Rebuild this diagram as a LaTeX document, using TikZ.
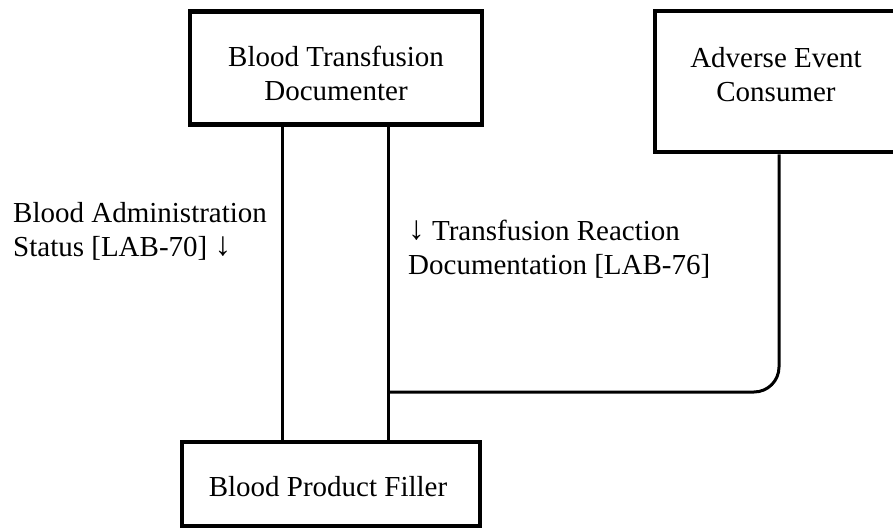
\documentclass[tikz,border=0pt]{standalone}
\usepackage{fontspec}
\setmainfont{Liberation Serif}
\usetikzlibrary{calc}
\newcommand{\darrow}{\resizebox*{!}{0.68em}{\raisebox{\depth}{↓}}}
\begin{document}
\begin{tikzpicture}[x=1pt,y=-1pt,
  box/.style={draw=black, line width=4.5pt, fill=white, inner sep=0pt},
  conn/.style={draw=black, line width=3pt},
  txt/.style={inner sep=0pt, font=\fontsize{29}{34}\selectfont}]
\useasboundingbox (0,0) rectangle (893,527);
% boxes
\node[box, minimum width=292pt, minimum height=113pt] (btd) at (336,68) {};
\node[box, minimum width=242pt, minimum height=141pt] (aec) at (776,81.5) {};
\node[box, minimum width=298pt, minimum height=84pt] (bpf) at (331,484) {};
% connectors
\draw[conn] ([xshift=-54pt]btd.south) -- ([xshift=-54pt]btd.south |- bpf.north);
\draw[conn] ([xshift=52pt]btd.south) -- ([xshift=52pt]btd.south |- bpf.north);
\coordinate (jn) at (388,392);
\draw[conn, rounded corners=25pt] ([xshift=3pt]aec.south) |- (jn);
% box texts
\node[txt, anchor=north, align=center] (btdt) at (336,46) {Blood Transfusion\\Documenter};
\node[txt, anchor=north, align=center] (aect) at (776,47) {Adverse Event\\Consumer};
\node[txt, anchor=north, align=center] (bpft) at (328,476) {Blood Product Filler};
% labels
\node[txt, anchor=north west, align=left] (l70) at (13,202) {Blood Administration\\Status [LAB-70] \darrow};
\node[txt, anchor=north west, align=left] (l76) at (408,220) {\darrow{} Transfusion Reaction\\Documentation [LAB-76]};
\end{tikzpicture}
\end{document}
